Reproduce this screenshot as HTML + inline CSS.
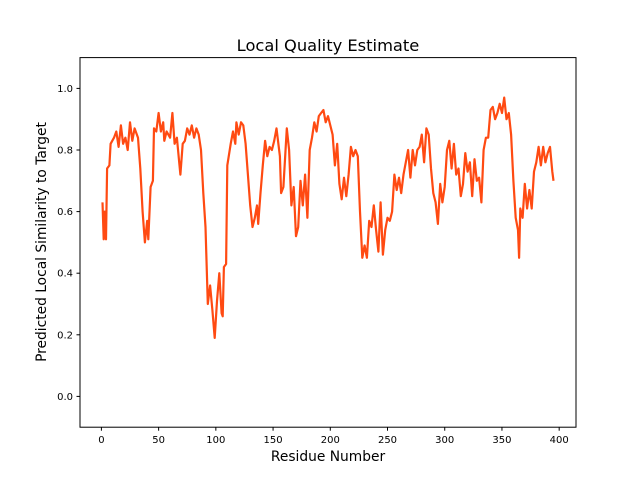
<!DOCTYPE html>
<html><head><meta charset="utf-8"><style>body{margin:0;background:#fff}svg{display:block;font-family:"DejaVu Sans","Liberation Sans",sans-serif}</style></head>
<body>
<svg id="chart" width="640" height="480">
<rect width="640" height="480" fill="#fff"/>
<text x="328" y="51" font-size="16.3" text-anchor="middle" fill="#000">Local Quality Estimate</text>
<text x="328" y="461" font-size="13.8" text-anchor="middle" fill="#000">Residue Number</text>
<text transform="translate(46,242) rotate(-90)" font-size="13.8" text-anchor="middle" fill="#000">Predicted Local Similarity to Target</text>
<g id="ticks"></g>
<path id="line" fill="none" stroke="#ff4a12" stroke-width="2.2" stroke-linejoin="round"/>
<rect x="80" y="57.6" width="496" height="369.6" fill="none" stroke="#000" stroke-width="1"/>
</svg>
<script>
const residues=[1,2,3,4,5,7,8,11,13,15,17,19,21,23,25,27,29,32,34,36,38,40,41,43,45,46,48,50,52,54,55,57,60,62,64,66,68,69,71,73,75,77,79,81,83,85,87,89,91,93,95,97,99,101,103,105,106,107,109,110,113,115,117,118,120,122,124,126,128,130,132,134,136,137,139,141,143,145,147,149,151,153,156,157,159,162,164,166,168,170,172,174,176,178,180,182,184,186,188,190,192,194,196,198,200,202,204,206,208,210,212,214,216,218,220,222,224,226,228,230,232,234,236,238,240,242,244,246,248,250,252,254,256,258,260,262,264,266,268,270,272,274,276,278,280,282,284,286,288,290,292,294,296,298,300,302,304,306,308,310,312,314,316,318,320,322,324,326,328,330,332,334,336,338,340,342,344,346,348,350,352,354,356,358,360,362,364,365,366,368,370,372,374,376,378,380,382,384,386,388,390,392,394,395];
const scores=[0.63,0.51,0.60,0.51,0.74,0.75,0.82,0.84,0.86,0.81,0.88,0.82,0.84,0.80,0.89,0.83,0.87,0.84,0.74,0.60,0.50,0.57,0.51,0.68,0.70,0.87,0.86,0.92,0.86,0.89,0.83,0.86,0.84,0.92,0.82,0.84,0.76,0.72,0.82,0.83,0.87,0.85,0.88,0.84,0.87,0.85,0.80,0.66,0.55,0.30,0.36,0.28,0.19,0.31,0.40,0.27,0.26,0.42,0.43,0.75,0.82,0.86,0.82,0.89,0.85,0.89,0.88,0.82,0.72,0.62,0.55,0.58,0.62,0.56,0.66,0.75,0.83,0.78,0.81,0.80,0.83,0.87,0.78,0.66,0.68,0.87,0.80,0.62,0.68,0.52,0.55,0.70,0.62,0.72,0.58,0.80,0.84,0.89,0.86,0.91,0.92,0.93,0.89,0.91,0.88,0.85,0.75,0.82,0.69,0.64,0.71,0.65,0.72,0.81,0.78,0.80,0.78,0.60,0.45,0.49,0.45,0.57,0.55,0.62,0.54,0.47,0.63,0.46,0.54,0.58,0.57,0.60,0.72,0.67,0.71,0.66,0.72,0.76,0.80,0.71,0.80,0.75,0.80,0.81,0.85,0.76,0.87,0.85,0.74,0.66,0.63,0.56,0.69,0.63,0.68,0.80,0.83,0.74,0.82,0.72,0.74,0.65,0.69,0.79,0.73,0.76,0.65,0.77,0.70,0.71,0.63,0.80,0.84,0.84,0.93,0.94,0.90,0.92,0.95,0.92,0.97,0.90,0.92,0.85,0.70,0.58,0.54,0.45,0.61,0.58,0.69,0.61,0.67,0.61,0.73,0.76,0.81,0.75,0.81,0.76,0.79,0.81,0.73,0.70];
const xTicks=[0,50,100,150,200,250,300,350,400];
const yTicks=["0.0","0.2","0.4","0.6","0.8","1.0"];
const L=80,R=576,T=57.6,B=427.2,xmin=-18.7,xmax=414.7,ymin=-0.1,ymax=1.1;
const sx=v=>L+(v-xmin)/(xmax-xmin)*(R-L);
const sy=v=>B-(v-ymin)/(ymax-ymin)*(B-T);
const NS="http://www.w3.org/2000/svg";
const g=document.getElementById('ticks');
function mk(tag,attrs){const e=document.createElementNS(NS,tag);for(const k in attrs)e.setAttribute(k,attrs[k]);return e;}
xTicks.forEach(t=>{
  const l=mk('line',{x1:sx(t),x2:sx(t),y1:B,y2:B+3.5,stroke:'#000'});
  
  
  g.appendChild(l);
  const tx=mk('text',{x:sx(t),y:B+16,'font-size':'10','text-anchor':'middle'});
  
  
  tx.textContent=t;g.appendChild(tx);
});
yTicks.forEach(t=>{
  const v=parseFloat(t);
  const l=mk('line',{x1:L-3.5,x2:L,y1:sy(v),y2:sy(v),stroke:'#000'});
  
  
  g.appendChild(l);
  const tx=mk('text',{x:L-7,y:sy(v)+3.5,'font-size':'10','text-anchor':'end'});
  
  
  tx.textContent=t;g.appendChild(tx);
});
document.getElementById('line').setAttribute('d',residues.map((r,i)=>(i?'L':'M')+sx(r).toFixed(1)+','+sy(scores[i]).toFixed(1)).join(''));
</script>
</body></html>
